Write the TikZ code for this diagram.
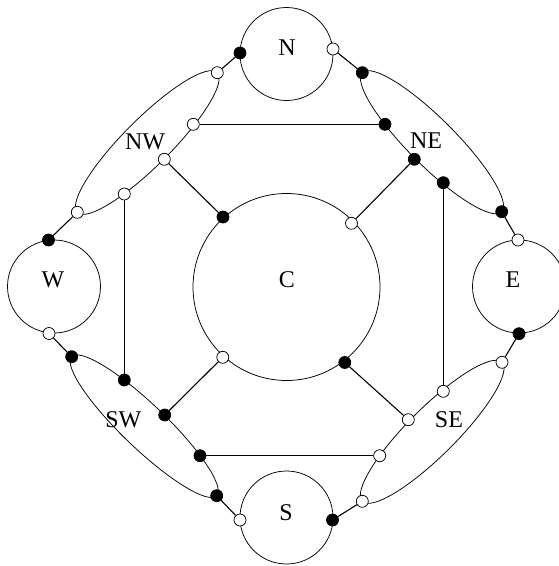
\documentclass[tikz,border=0pt]{standalone}
\usepackage{fontspec}
\setmainfont{Liberation Serif}
\usetikzlibrary{shapes.geometric}
\tikzset{
  outline/.style={draw, line width=0.75pt},
  bigcirc/.style={outline, circle, inner sep=0pt, outer sep=0pt},
  hyper/.style={outline, ellipse, inner sep=0pt, outer sep=0pt},
  lbl/.style={inner sep=0pt, font=\fontsize{24}{28}\selectfont},
  wdot/.style={circle, draw, line width=0.75pt, fill=white, inner sep=0pt, minimum size=12pt},
  bdot/.style={circle, draw, line width=0.75pt, fill=black, inner sep=0pt, minimum size=12pt},
  conn/.style={line width=1.1pt}
}
\begin{document}
\begin{tikzpicture}[x=1pt,y=-1pt]
\useasboundingbox (0,0) rectangle (559,566);
\clip (0,0) rectangle (559,566);
% hyperedges (ellipses)
\node[hyper, minimum width=197.8pt, minimum height=47pt, rotate=45] (NWe) at (147.3,142.5) {};
\node[hyper, minimum width=196.8pt, minimum height=47pt, rotate=-45] (NEe) at (432,142.2) {};
\node[hyper, minimum width=200.8pt, minimum height=44pt, rotate=-43.8] (SWe) at (144.2,426.2) {};
\node[hyper, minimum width=197pt, minimum height=48pt, rotate=44.85] (SEe) at (432.15,431.8) {};
% big circles
\node[bigcirc, minimum size=93pt] (N) at (286.5,54) {};
\node[bigcirc, minimum size=93pt] (W) at (54,286.5) {};
\node[bigcirc, minimum size=93pt] (E) at (519,286.5) {};
\node[bigcirc, minimum size=93pt] (S) at (286.5,517.5) {};
\node[bigcirc, minimum size=187pt] (C) at (286.5,287) {};
% labels
\node[lbl] (Nt) at (287,48) {N};
\node[lbl] (Wt) at (53,280) {W};
\node[lbl] (Et) at (513,280) {E};
\node[lbl] (St) at (286,513) {S};
\node[lbl] (Ct) at (287,280) {C};
\node[lbl] (NWt) at (145,141.7) {NW};
\node[lbl] (NEt) at (426,141) {NE};
\node[lbl] (SWt) at (123.3,420) {SW};
\node[lbl] (SEt) at (449,419.7) {SE};
% ports on big circles
\node[bdot] (Nb) at (240,53) {};
\node[wdot] (Nw) at (333,49) {};
\node[bdot] (Wb) at (48.5,240) {};
\node[wdot] (Ww) at (49,333.5) {};
\node[wdot] (Ew) at (518,240) {};
\node[bdot] (Eb) at (519,333.7) {};
\node[wdot] (Sw) at (240,520) {};
\node[bdot] (Sb) at (332.5,520) {};
\node[bdot] (C1) at (223,217) {};
\node[wdot] (C2) at (351.5,223.3) {};
\node[wdot] (C3) at (222.8,357.3) {};
\node[bdot] (C4) at (344.8,362.5) {};
% NW ports
\node[wdot] (nw1) at (217.3,72.7) {};
\node[wdot] (nw2) at (193.3,124.3) {};
\node[wdot] (nw3) at (164.3,159.3) {};
\node[wdot] (nw4) at (124.3,194) {};
\node[wdot] (nw5) at (77.3,212.3) {};
% NE ports
\node[bdot] (ne1) at (362.3,72.7) {};
\node[bdot] (ne2) at (385,124.3) {};
\node[bdot] (ne3) at (414.3,159.3) {};
\node[bdot] (ne4) at (443.3,182.7) {};
\node[bdot] (ne5) at (501.7,211.7) {};
% SW ports
\node[bdot] (sw1) at (71.7,356.7) {};
\node[bdot] (sw2) at (124.3,380) {};
\node[bdot] (sw3) at (164.7,415) {};
\node[bdot] (sw4) at (200,455.7) {};
\node[bdot] (sw5) at (216.7,495.7) {};
% SE ports
\node[wdot] (se1) at (502,362.3) {};
\node[wdot] (se2) at (443.3,391.3) {};
\node[wdot] (se3) at (408.3,419.7) {};
\node[wdot] (se4) at (379.7,455.7) {};
\node[wdot] (se5) at (362.3,501.3) {};
% connectors
\draw[conn] (Nb) -- (nw1);
\draw[conn] (Nw) -- (ne1);
\draw[conn] (Wb) -- (nw5);
\draw[conn] (Ww) -- (sw1);
\draw[conn] (Ew) -- (ne5);
\draw[conn] (Eb) -- (se1);
\draw[conn] (Sw) -- (sw5);
\draw[conn] (Sb) -- (se5);
\draw[conn] (C1) -- (nw3);
\draw[conn] (C2) -- (ne3);
\draw[conn] (C3) -- (sw3);
\draw[conn] (C4) -- (se3);
\draw[conn] (nw2) -- (ne2);
\draw[conn] (sw4) -- (se4);
\draw[conn] (nw4) -- (sw2);
\draw[conn] (ne4) -- (se2);
\end{tikzpicture}
\end{document}
